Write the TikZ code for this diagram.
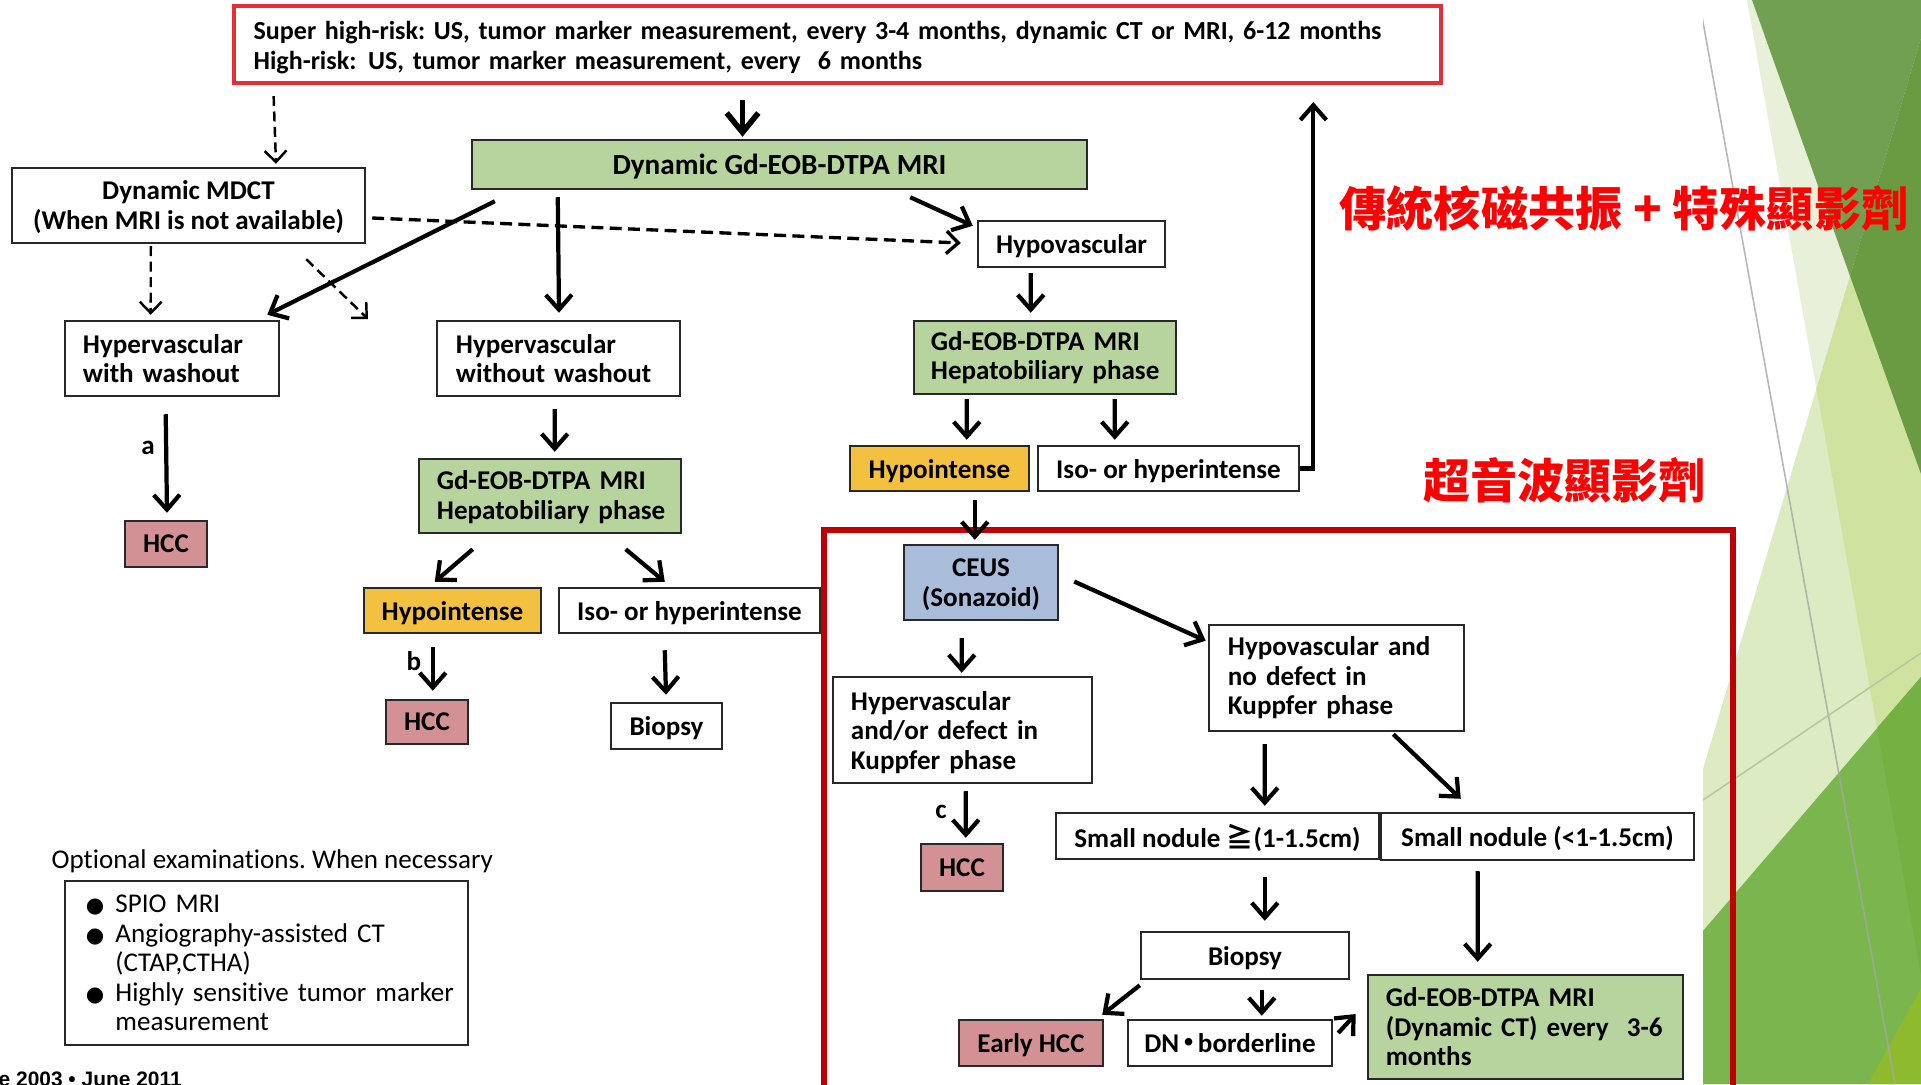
\documentclass[tikz,border=0pt]{standalone}
\usepackage{fontspec}
\setmainfont{Carlito}[Ligatures=NoCommon]
\newfontfamily\cjk{Noto Sans CJK TC}
\newfontfamily\dejavu{DejaVu Sans}
\newfontfamily\arialb{Liberation Sans}
\usetikzlibrary{arrows.meta,calc}
\frenchspacing
\definecolor{bgreen}{RGB}{183,211,158}
\definecolor{borange}{RGB}{243,193,63}
\definecolor{bpink}{RGB}{211,145,150}
\definecolor{bblue}{RGB}{169,188,218}
\definecolor{boxline}{RGB}{40,40,40}
\definecolor{topred}{RGB}{226,48,52}
\definecolor{framered}{RGB}{192,0,0}
\definecolor{dA}{RGB}{232,240,217}
\definecolor{dB}{RGB}{221,235,195}
\definecolor{dAB}{RGB}{208,226,160}
\definecolor{dDarkA}{RGB}{114,160,82}
\definecolor{dDarkB}{RGB}{106,154,66}
\definecolor{dMed}{RGB}{123,181,77}
\definecolor{dMedA}{RGB}{117,176,67}
\definecolor{dYel}{RGB}{141,187,45}
\definecolor{dLine}{RGB}{185,198,160}
\newcommand\optbul{\makebox[0.295cm][l]{\dejavu\fontsize{6}{6}\selectfont ●}}
\begin{document}
\begin{tikzpicture}[x=0.01cm,y=-0.01cm,
  bx/.style={draw=boxline, line width=0.7pt, fill=white, inner sep=0pt, align=center, font=\bfseries\fontsize{7.7}{8.4}\selectfont},
  sl/.style={text depth=0pt},
  sz/.style 2 args={minimum width=#1*0.01cm, minimum height=#2*0.01cm},
  lt/.style 2 args={align=left, text width=#1, inner xsep=#2*0.01cm},
  gbx/.style={bx, fill=bgreen},
  obx/.style={bx, fill=borange},
  pbx/.style={bx, fill=bpink},
  blbx/.style={bx, fill=bblue},
  arr/.style={line width=1.2pt, -{Straight Barb[length=4.2pt,width=7.4pt]}},
  bigarr/.style={line width=1.6pt, -{Straight Barb[length=5.5pt,width=9pt]}},
  darr/.style={line width=0.7pt, dash pattern=on 2.8pt off 1.6pt, -{Straight Barb[length=3.2pt,width=6.2pt]}},
  darrb/.style={line width=0.95pt, dash pattern=on 3.4pt off 1.8pt, -{Straight Barb[length=3.4pt,width=6.4pt]}},
  lbl/.style={inner sep=0pt, font=\bfseries\fontsize{7.7}{8.4}\selectfont},
  cjkt/.style={inner sep=0pt, text=red, font=\cjk\bfseries\fontsize{13.4}{14}\selectfont},
]
\useasboundingbox (0,0) rectangle (1921,1084);
\fill[white] (0,0) rectangle (1921,1084);
% background decoration
\begin{scope}
\clip (1703,0) rectangle (1921,1084);
\fill[dB] (1921,38) -- (1609,1084) -- (1921,1084) -- cycle;
\fill[dA] (1747,0) -- (1921,0) -- (1921,38) -- (1816.4,388.6) -- cycle;
\fill[dAB] (1816.4,388.6) -- (1921,38) -- (1921,975) -- cycle;
\fill[dDarkA] (1752,0) -- (1921,0) -- (1921,38) -- (1850,276) -- cycle;
\fill[dDarkB] (1850,276) -- (1921,38) -- (1921,474) -- cycle;
\fill[dMed] (1690,946) -- (1921,677) -- (1921,1084) -- (1690,1084) -- cycle;
\fill[dMedA] (1877,728) -- (1921,677) -- (1921,975) -- cycle;
\fill[dYel] (1921,988) -- (1868,1084) -- (1921,1084) -- cycle;
\draw[black!35, opacity=0.8, line width=0.45pt] (1699,0) -- (1895,1084);
\draw[dLine, line width=0.45pt] (1703,800) -- (1921,653);
\end{scope}

% titles
\node[cjkt] (t1) at (1624,208) {傳統核磁共振 + 特殊顯影劑};
\node[cjkt] (t2) at (1564.5,480) {超音波顯影劑};

% red frame
\draw[framered, line width=1.6pt] (824,530) rectangle (1733,1100);

% nodes
\node[bx, draw=topred, line width=1.15pt, sz={1207}{77}, lt={11.67cm}{20}, font=\bfseries\fontsize{7.4}{8.7}\selectfont] (top) at (837.5,44.5)
  {\mbox{\rule{0pt}{7pt}Super high-risk: US, tumor marker measurement, every 3-4 months, dynamic CT or MRI, 6-12 months}\\\mbox{High-risk:\hspace{0.45em}US, tumor marker measurement, every\ \ 6 months}};
\node[gbx, sl, sz={615}{49}, font=\bfseries\fontsize{8.3}{9}\selectfont] (dgd) at (779.5,164.5) {Dynamic Gd-EOB-DTPA MRI};
\node[bx, sz={353}{75}] (mdct) at (188.5,205.5) {\rule{0pt}{6.4pt}Dynamic MDCT\\(When MRI is not available)};
\node[bx, sl, sz={187}{46}] (hypov) at (1071.5,244) {Hypovascular};
\node[bx, sz={214}{75}, lt={1.78cm}{18}] (hvw) at (172,358.5) {Hypervascular\\with washout};
\node[bx, sz={243}{75}, lt={2.05cm}{19}] (hvwo) at (558.5,358.5) {Hypervascular\\without washout};
\node[gbx, sz={262}{73}, lt={2.28cm}{17}] (hbr) at (1045,357.5) {\mbox{Gd-EOB-DTPA MRI}\\\mbox{Hepatobiliary phase}};
\node[obx, sl, sz={179}{45}] (hypor) at (939.5,468.5) {Hypointense};
\node[bx, sl, sz={261}{45}] (isor) at (1168.5,468.5) {Iso- or hyperintense};
\node[pbx, sl, sz={82}{46}] (hcca) at (166,544) {HCC};
\node[gbx, sz={262}{74}, lt={2.26cm}{18}] (hbm) at (550,496) {\mbox{\rule{0pt}{6pt}Gd-EOB-DTPA MRI}\\\mbox{Hepatobiliary phase}};
\node[obx, sl, sz={177}{45}] (hypom) at (452.5,610.5) {Hypointense};
\node[bx, sl, sz={261}{45}] (isom) at (689.5,610.5) {Iso- or hyperintense};
\node[pbx, sl, sz={82}{44}] (hccb) at (427,722) {HCC};
\node[bx, sl, sz={111}{46}] (biopm) at (666.5,726) {Biopsy};
\node[inner sep=0pt, anchor=west, font=\fontsize{7.7}{8.4}\selectfont] (optt) at (51,861) {Optional examinations. When necessary};
\node[bx, font=\fontsize{7.7}{8.37}\selectfont, sz={403}{164}, lt={3.61cm}{21}] (opt) at (266.5,963)
  {\mbox{\optbul SPIO MRI}\\\mbox{\optbul Angiography-assisted CT}\\\mbox{\hspace*{0.295cm}(CTAP,CTHA)}\\\mbox{\optbul Highly sensitive tumor marker}\\\mbox{\hspace*{0.295cm}measurement}};
\node[blbx, sz={154}{75}] (ceus) at (981,582.5) {\rule{0pt}{6.4pt}CEUS\\(Sonazoid)};
\node[bx, sz={259}{106}, lt={2.23cm}{18}] (hvk) at (962.5,730) {\mbox{\rule{0pt}{6.7pt}Hypervascular}\\\mbox{and/or defect in}\\\mbox{Kuppfer phase}};
\node[bx, sz={255}{106}, lt={2.17cm}{19}] (hnk) at (1336.5,678) {\mbox{Hypovascular and}\\\mbox{no defect in}\\\mbox{Kuppfer phase}};
\node[pbx, sl, sz={82}{47}] (hccc) at (962,867.5) {HCC};
\node[bx, sl, sz={323}{46}] (sn1) at (1217.5,836) {Small nodule {\cjk ≧}(1-1.5cm)};
\node[bx, sl, sz={313}{47}] (sn2) at (1537.5,836.5) {Small nodule (<1-1.5cm)};
\node[bx, sl, sz={208}{47}] (biopr) at (1245,955.5) {Biopsy};
\node[pbx, sl, sz={144}{46}] (ehcc) at (1031,1043) {Early HCC};
\node[bx, sl, sz={204}{46}] (dn) at (1230,1043) {DN{\cjk\hspace{-1.2pt}・\hspace{-1.2pt}}borderline};
\node[gbx, sz={315}{104}, lt={2.79cm}{18}] (gdr) at (1525.5,1027) {\mbox{Gd-EOB-DTPA MRI}\\\mbox{(Dynamic CT) every\ \ 3-6}\\\mbox{months}};
\node[inner sep=0pt, anchor=base west, font=\arialb\bfseries\fontsize{5.95}{6}\selectfont] (cite) at (-2,1086) {e 2003 • June 2011};

% labels
\node[lbl] (la) at (148,448) {a};
\node[lbl] (lb) at (414,661) {b};
\node[lbl] (lc) at (941,812) {c};

\coordinate (dfree) at (368,319);

% connectors
\draw[bigarr] ($(top.south)+(-95,15)$) -- ($(dgd.north)+(-37,-2)$);
\draw[darr] ($(top.south west)+(42,11)$) -- ($(mdct.north)+(87.5,-3)$);
\draw[arr] ($(dgd.south west)+(24,11)$) -- ($(hvw.north east)+(-13,-5)$);
\draw[arr] ($(dgd.south west)+(87,7)$) -- ($(hvwo.north)+(0.5,-7)$);
\draw[arr] ($(dgd.south east)+(-178,7)$) -- ($(hypov.north west)+(-4,6)$);
\draw[darr] ($(mdct.south west)+(140,2)$) -- ($(hvw.north west)+(87,-5)$);
\draw[darr] ($(mdct.south east)+(-60,15)$) -- (dfree);
\draw[darrb] ($(mdct.east)+(6,12.5)$) -- ($(hypov.west)+(-16,-1)$);
\draw[arr] ($(hypov.south west)+(54,5)$) -- ($(hbr.north west)+(118,-7)$);
\draw[arr] ($(hvw.south west)+(102,17)$) -- ($(hcca.north)+(1,-7)$);
\draw[arr] ($(hvwo.south west)+(119,12)$) -- ($(hbm.north west)+(137,-6)$);
\draw[arr] ($(hbm.south west)+(55,15)$) -- ($(hypom.north west)+(72,-5)$);
\draw[arr] ($(hbm.south west)+(208,15)$) -- ($(isom.north west)+(107,-5)$);
\draw[arr] ($(hypom.south west)+(70,13)$) -- ($(hccb.north west)+(48,-8)$);
\draw[arr] ($(isom.south west)+(107,16)$) -- ($(biopm.north)+(-0.5,-7)$);
\draw[arr] ($(hbr.south west)+(54,4)$) -- ($(hypor.north west)+(118,-5)$);
\draw[arr] ($(hbr.south west)+(202,4)$) -- ($(isor.north west)+(78,-5)$);
\draw[arr] (isor.east) -| ($(top.south east)+(-130,17)$);
\draw[arr] ($(hypor.south west)+(126,8)$) -- ($(ceus.north west)+(72,-4)$);
\draw[arr] ($(ceus.south west)+(59,17)$) -- ($(hvk.north west)+(130,-3)$);
\draw[arr] ($(ceus.east)+(15,-1)$) -- ($(hnk.north west)+(-2,17)$);
\draw[arr] ($(hvk.south west)+(134,7)$) -- ($(hccc.north west)+(46,-5)$);
\draw[arr] ($(hnk.south west)+(57,12)$) -- ($(sn1.north west)+(210,-6)$);
\draw[arr] ($(hnk.south east)+(-72,2)$) -- ($(sn2.north west)+(81,-13)$);
\draw[arr] ($(sn1.south west)+(210,17)$) -- ($(biopr.north west)+(125,-10)$);
\draw[arr] ($(sn2.south west)+(98,10)$) -- ($(gdr.north west)+(111,-12)$);
\draw[arr] ($(biopr.south west)+(0,5)$) -- ($(ehcc.north east)+(-2,-4)$);
\draw[arr] ($(biopr.south west)+(122,10)$) -- ($(dn.north west)+(135,-3)$);
\draw[arr] ($(dn.east)+(5,-10)$) -- ($(gdr.west)+(-11,-13)$);
\end{tikzpicture}
\end{document}
